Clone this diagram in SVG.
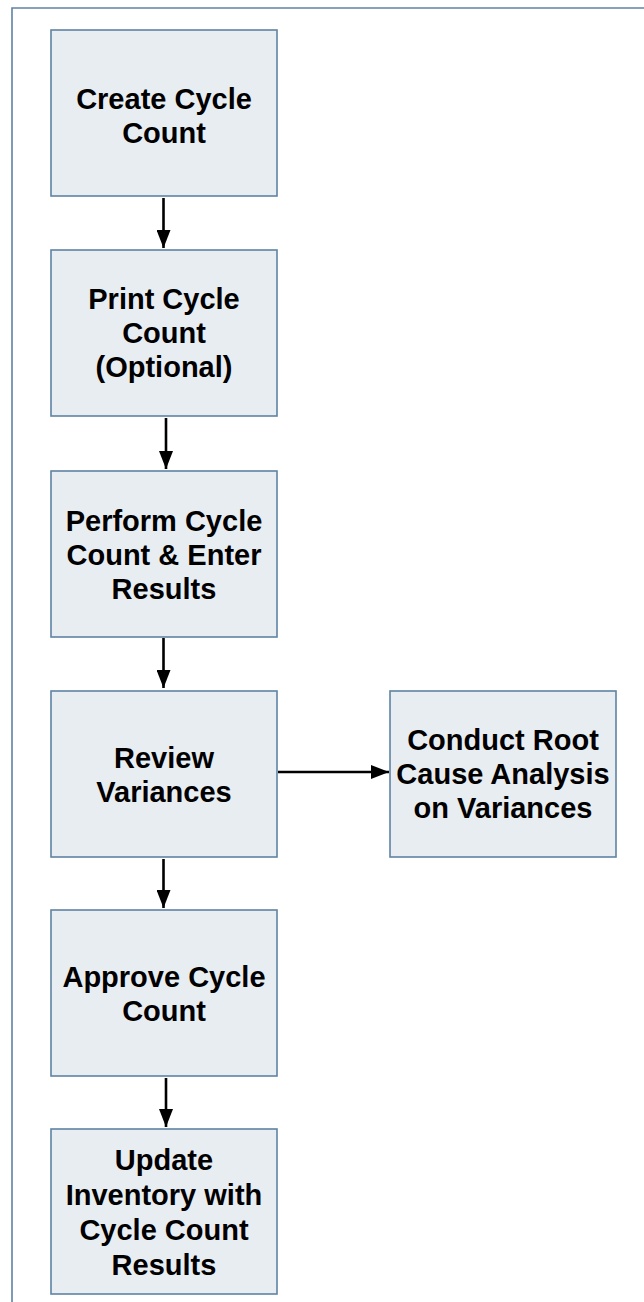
<svg xmlns="http://www.w3.org/2000/svg" width="644" height="1302" viewBox="0 0 644 1302">
<defs>
<style>
.box{fill:#e8edf2;stroke:#5f83a3;stroke-width:1.6}
.lbl{font-family:"Liberation Sans",Arial,sans-serif;font-weight:bold;font-size:29px;fill:#000;text-anchor:middle}
.conn{stroke:#000;stroke-width:2.6;fill:none;marker-end:url(#ah)}
.frame{stroke:#5f83a3;stroke-width:1.6;fill:none}
</style>
<marker id="ah" markerUnits="userSpaceOnUse" markerWidth="18" markerHeight="14" refX="18" refY="7" orient="auto" viewBox="0 0 18 14">
<path d="M0,0 L18,7 L0,14 z" fill="#000"/>
</marker>
</defs>
<rect width="644" height="1302" fill="#fff"/>
<path class="frame" d="M12,1302 V8 H644"/>
<g id="n1"><rect class="box" x="51" y="30" width="226" height="166"/>
<text class="lbl" x="164" y="109">Create Cycle</text><text class="lbl" x="164" y="143">Count</text></g>
<g id="n2"><rect class="box" x="51" y="250" width="226" height="166"/>
<text class="lbl" x="164" y="309">Print Cycle</text><text class="lbl" x="164" y="343">Count</text><text class="lbl" x="164" y="377">(Optional)</text></g>
<g id="n3"><rect class="box" x="51" y="471" width="226" height="166"/>
<text class="lbl" x="164" y="531">Perform Cycle</text><text class="lbl" x="164" y="565">Count &amp; Enter</text><text class="lbl" x="164" y="599">Results</text></g>
<g id="n4"><rect class="box" x="51" y="691" width="226" height="166"/>
<text class="lbl" x="164" y="768">Review</text><text class="lbl" x="164" y="802">Variances</text></g>
<g id="n5"><rect class="box" x="390" y="691" width="226" height="166"/>
<text class="lbl" x="503" y="750">Conduct Root</text><text class="lbl" x="503" y="784">Cause Analysis</text><text class="lbl" x="503" y="818">on Variances</text></g>
<g id="n6"><rect class="box" x="51" y="910" width="226" height="166"/>
<text class="lbl" x="164" y="987">Approve Cycle</text><text class="lbl" x="164" y="1021">Count</text></g>
<g id="n7"><rect class="box" x="51" y="1129" width="226" height="165"/>
<text class="lbl" x="164" y="1170">Update</text><text class="lbl" x="164" y="1205">Inventory with</text><text class="lbl" x="164" y="1240">Cycle Count</text><text class="lbl" x="164" y="1275">Results</text></g>
<g id="connectors">
<line class="conn" x1="163.5" y1="198" x2="163.5" y2="248"/>
<line class="conn" x1="166" y1="418" x2="166" y2="469"/>
<line class="conn" x1="163.5" y1="638" x2="163.5" y2="688"/>
<line class="conn" x1="163.5" y1="859" x2="163.5" y2="908"/>
<line class="conn" x1="166" y1="1078" x2="166" y2="1127"/>
<line class="conn" x1="278" y1="772" x2="389" y2="772"/>
</g>
</svg>
